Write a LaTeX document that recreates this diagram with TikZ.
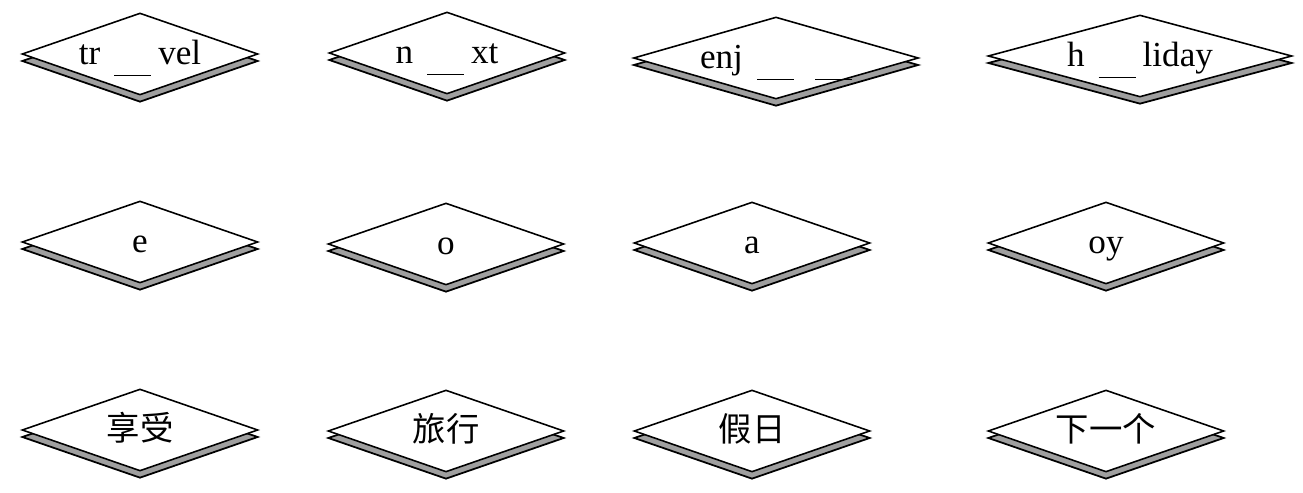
\documentclass[tikz,border=0pt]{standalone}
\usepackage{fontspec}
\setmainfont{Liberation Serif}
\newfontfamily\cjk{Noto Sans CJK SC}
\usetikzlibrary{shapes.geometric,shadows}
\newcommand{\fillgap}{\hspace{0.4em}\smash{\raisebox{-6.5pt}{\rule{1.05em}{0.5pt}}}\hspace{0.2em}}

\tikzset{
  card/.style={shape=diamond,draw=black,fill=white,line width=0.9pt,inner sep=0pt,
    minimum width=4.72cm,minimum height=1.64cm,aspect=2.88,
    text height=12.4pt,text depth=0pt,
    general shadow={shadow yshift=-0.14cm,fill=gray!75,draw=black,line width=1pt}},
  wide card/.style={card,minimum width=#1,aspect=3.5},
  cn/.style={font=\cjk\fontsize{19}{21}\selectfont},
}

\begin{document}
\begin{tikzpicture}[x=0.02cm,y=-0.02cm,font=\fontsize{20}{22}\selectfont]
\useasboundingbox (0,0) rectangle (1303,493);
% row 1: words with gaps
\node[card] (travel) at (140,54) {tr\fillgap vel};
\node[card] (next) at (447,53) {n\fillgap xt};
\node[wide card=5.7cm] (enjoy) at (776,58) {enj\fillgap\fillgap};
\node[wide card=6.08cm] (holiday) at (1140,56) {h\fillgap liday};
% row 2: letters
\node[card] (lete) at (140,242) {e};
\node[card] (leto) at (446,244) {o};
\node[card] (leta) at (752,243) {a};
\node[card] (letoy) at (1106,243) {oy};
% row 3: meanings
\node[card,cn] (xiangshou) at (140,430) {享受};
\node[card,cn] (lvxing) at (446,431) {旅行};
\node[card,cn] (jiari) at (752,431) {假日};
\node[card,cn] (xiayige) at (1106,431) {下一个};
\end{tikzpicture}
\end{document}
